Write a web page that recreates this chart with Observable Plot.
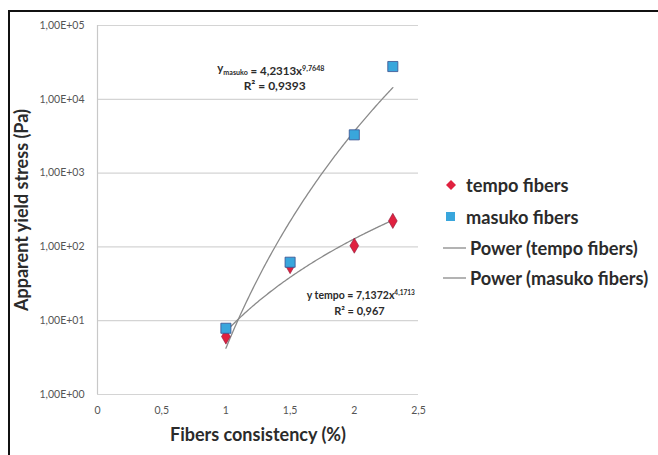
<!DOCTYPE html>
<html>
<head>
<meta charset="utf-8">
<script src="https://cdn.jsdelivr.net/npm/d3@7"></script>
<script src="https://cdn.jsdelivr.net/npm/@observablehq/plot@0.6"></script>
<style>
  html, body { margin: 0; padding: 0; background: #fff; }
  #wrap { position: relative; width: 658px; height: 455px; overflow: hidden; }
  #border { position: absolute; left: 8px; top: 10px; width: 700px; height: 500px; border: 2.5px solid #111; box-sizing: border-box; pointer-events: none; }
  #legend { position: absolute; left: 440px; top: 170px; font-family: Lato, sans-serif; font-weight: 700; font-size: 18.2px; color: #2b2b2b; }
  #legend .item { position: absolute; white-space: nowrap; display: flex; align-items: center; height: 24px; }
  #legend svg { margin-right: 4px; }
  svg text { font-family: Lato, sans-serif; }
</style>
</head>
<body>
<div id="wrap">
  <div id="chart"></div>
  <div id="border"></div>
  <div id="legend"></div>
</div>
<script>
// ---- data ----
const consistency = [1, 1.5, 2, 2.3];
const tempoStress = [6.1, 55, 104, 225];
const masukoStress = [7.9, 62, 3300, 27800];
const seriesNames = ["tempo fibers", "masuko fibers"];
const fitNames = ["Power (tempo fibers)", "Power (masuko fibers)"];
const fitA = [7.1372, 4.2313];
const fitB = [4.1713, 9.7648];
const fitRange = [1, 2.3];
const xTicks = [0, 0.5, 1, 1.5, 2, 2.5];
const yTicks = [1, 10, 100, 1000, 10000, 100000];
const yTickLabels = ["1,00E+00", "1,00E+01", "1,00E+02", "1,00E+03", "1,00E+04", "1,00E+05"];
const eqTexts = ["y{masuko} = 4,2313x^9,7648", "R² = 0,9393", "y tempo = 7,1372x^4,1713", "R² = 0,967"];
const eqX = [1.35, 1.38, 2.05, 2.04];
const eqY = [26000, 15000, 22, 13.2];
const eqSize = [11.5, 12, 10.5, 11];

// ---- tables ----
const points = [];
consistency.forEach((c, i) => {
  points.push({series: seriesNames[0], x: c, y: tempoStress[i]});
});
consistency.forEach((c, i) => {
  points.push({series: seriesNames[1], x: c, y: masukoStress[i]});
});
const fitLines = [];
fitNames.forEach((n, k) => {
  d3.range(fitRange[0], fitRange[1] + 1e-9, 0.01).forEach(x => {
    fitLines.push({fit: n, x, y: fitA[k] * Math.pow(x, fitB[k])});
  });
});
const eqs = eqTexts.map((t, i) => ({t, x: eqX[i], y: eqY[i], s: eqSize[i]}));

const tickFmtY = d => yTickLabels[yTicks.indexOf(d)];
const tickFmtX = d => String(d).replace(".", ",");

const plot = Plot.plot({
  width: 658,
  height: 455,
  marginLeft: 97,
  marginRight: 240,
  marginTop: 25,
  marginBottom: 61,
  style: {fontFamily: "Lato, sans-serif", background: "#fff"},
  x: {domain: [0, 2.5], ticks: xTicks, tickFormat: tickFmtX, label: null},
  y: {type: "log", domain: [1, 100000], ticks: yTicks, tickFormat: tickFmtY, label: null},
  marks: [
    Plot.gridY(yTicks, {stroke: "#d4d4d4", strokeOpacity: 1, strokeWidth: 1.2}),
    Plot.ruleX([0], {stroke: "#c8c8c8", strokeWidth: 1.2}),
    Plot.axisY({ticks: yTicks, tickFormat: tickFmtY, tickSize: 0, tickPadding: 13, fontSize: 10.5, fill: "#555", label: null}),
    Plot.axisX({ticks: xTicks, tickFormat: tickFmtX, tickSize: 0, tickPadding: 12, fontSize: 10.5, fill: "#555", label: null}),
    Plot.line(fitLines, {x: "x", y: "y", z: "fit", stroke: "#8a8a8a", strokeWidth: 1.3}),
    Plot.dot(points.filter(d => d.series === seriesNames[0]), {x: "x", y: "y", symbol: "diamond", r: 4.6, fill: "#e0213f", stroke: "#8a1a3a", strokeWidth: 0.6}),
    Plot.dot(points.filter(d => d.series === seriesNames[1]), {x: "x", y: "y", symbol: "square", r: 5.7, fill: "#39a6dc", stroke: "#3b4f8e", strokeWidth: 0.8}),
    Plot.text(eqs, {x: "x", y: "y", text: "t", fontSize: "s", fontWeight: 700, fill: "#2b2b2b", textAnchor: "middle", className: "eq"}),
    Plot.text(["Fibers consistency (%)"], {frameAnchor: "bottom", dy: 46, fontSize: 18, fontWeight: 700, fill: "#2b2b2b"}),
    Plot.text(["Apparent yield stress (Pa)"], {frameAnchor: "left", textAnchor: "middle", dx: -75, rotate: -90, fontSize: 18, fontWeight: 700, fill: "#2b2b2b"})
  ]
});
document.getElementById("chart").appendChild(plot);

// rich text for equations: {sub} and ^sup
d3.select(plot).selectAll("g.eq text").each(function() {
  const el = d3.select(this);
  const raw = el.text();
  const size = parseFloat(el.attr("font-size")) || 11;
  el.text("");
  const re = /\{([^}]*)\}|\^(\S+)|([^{^]+)/g;
  let m;
  while ((m = re.exec(raw))) {
    if (m[1] !== undefined) {
      el.append("tspan").attr("font-size", size * 0.62).attr("dy", size * 0.25).text(m[1]);
      el.append("tspan").attr("dy", -size * 0.25).text("");
    } else if (m[2] !== undefined) {
      el.append("tspan").attr("font-size", size * 0.62).attr("dy", -size * 0.4).text(m[2]);
    } else {
      el.append("tspan").text(m[3]);
    }
  }
});

// legend
const legendItems = [
  {label: seriesNames[0], type: "diamond"},
  {label: seriesNames[1], type: "square"},
  {label: fitNames[0], type: "line"},
  {label: fitNames[1], type: "line"}
];
const legend = d3.select("#legend");
const legendTop = [3, 35, 66, 96];
legendItems.forEach((it, i) => {
  const row = legend.append("div").attr("class", "item").style("top", legendTop[i] + "px").style("left", "2px");
  const s = row.append("svg").attr("width", it.type === "line" ? 24 : 20).attr("height", 14);
  if (it.type === "diamond") {
    s.append("path").attr("d", "M9,2 L14,7 L9,12 L4,7 Z").attr("fill", "#e0213f");
  } else if (it.type === "square") {
    s.append("rect").attr("x", 4).attr("y", 2).attr("width", 9).attr("height", 9).attr("fill", "#39a6dc");
  } else {
    s.append("line").attr("x1", 1).attr("x2", 24).attr("y1", 7).attr("y2", 7).attr("stroke", "#8a8a8a").attr("stroke-width", 1.3);
  }
  row.append("span").text(it.label);
});
</script>
</body>
</html>
